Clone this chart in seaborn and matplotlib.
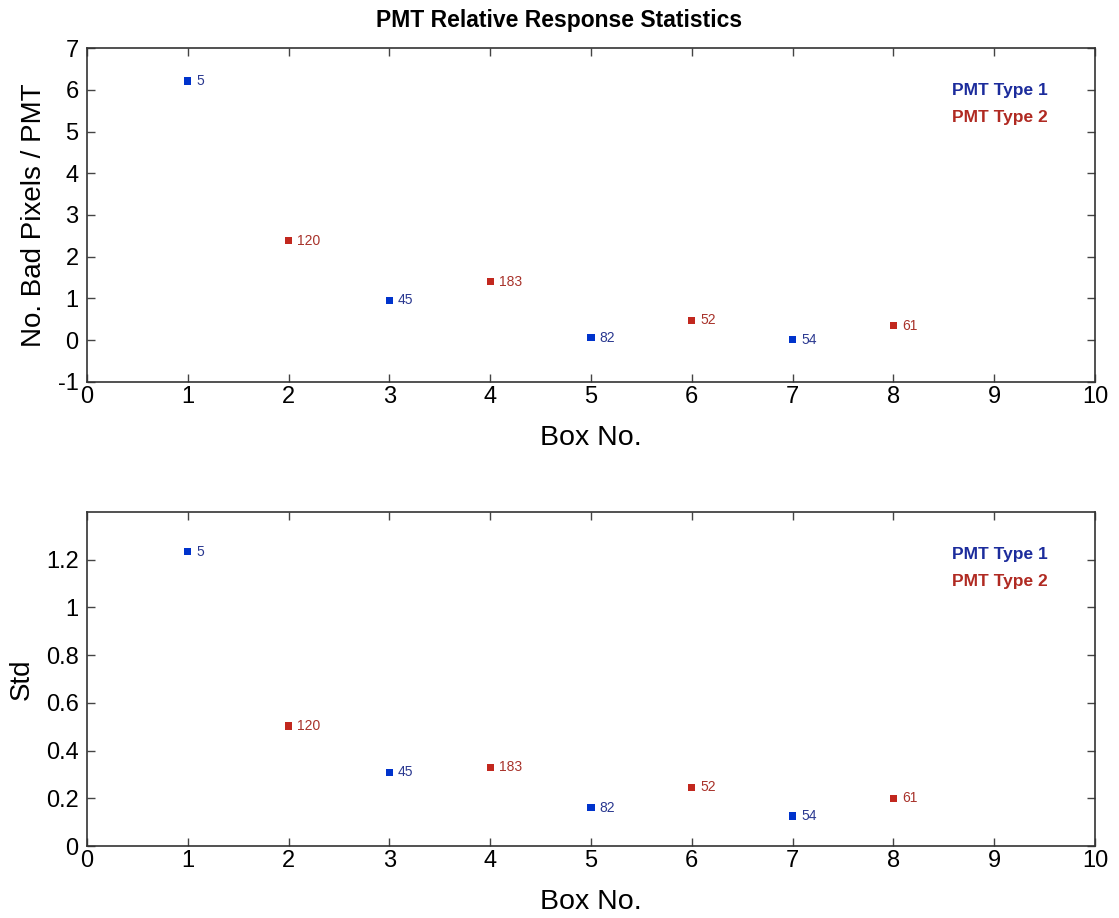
import matplotlib
matplotlib.use("Agg")
import matplotlib.pyplot as plt
import seaborn as sns
import pandas as pd

boxes = [1, 2, 3, 4, 5, 6, 7, 8]
pmt_type = ["PMT Type 1", "PMT Type 2", "PMT Type 1", "PMT Type 2",
            "PMT Type 1", "PMT Type 2", "PMT Type 1", "PMT Type 2"]
bad_pixels = [6.21, 2.38, 0.96, 1.40, 0.06, 0.48, 0.01, 0.35]
std_vals = [1.234, 0.503, 0.31, 0.33, 0.16, 0.247, 0.126, 0.20]
counts = [5, 120, 45, 183, 82, 52, 54, 61]

marker_colors = {"PMT Type 1": "#0033cc", "PMT Type 2": "#c2281e"}
label_colors = {"PMT Type 1": "#2a3890", "PMT Type 2": "#a8322a"}
legend_colors = {"PMT Type 1": "#1c2c9c", "PMT Type 2": "#b02a22"}

df = pd.DataFrame({"box": boxes, "type": pmt_type, "bad": bad_pixels,
                   "std": std_vals, "n": counts})

sns.set_style("ticks")
plt.rcParams["font.family"] = ["Liberation Sans", "DejaVu Sans"]
plt.rcParams["text.color"] = "black"
plt.rcParams["axes.labelcolor"] = "black"
plt.rcParams["xtick.color"] = "#444444"
plt.rcParams["ytick.color"] = "#444444"
plt.rcParams["xtick.labelcolor"] = "black"
plt.rcParams["ytick.labelcolor"] = "black"

fig = plt.figure(figsize=(11.19, 9.18), dpi=100)
ax1 = fig.add_axes([0.0777, 0.5839, 0.9009, 0.3638])
ax2 = fig.add_axes([0.0777, 0.0784, 0.9009, 0.3638])

for ax, col, ylabel, ylim, yticks, yfmt in [
    (ax1, "bad", "No. Bad Pixels / PMT", (-1, 7), list(range(-1, 8)), lambda v: f"{v:d}"),
    (ax2, "std", "Std", (0, 1.4), [0, 0.2, 0.4, 0.6, 0.8, 1.0, 1.2],
     lambda v: f"{v:g}"),
]:
    sns.scatterplot(data=df, x="box", y=col, hue="type", palette=marker_colors,
                    marker="s", s=26, edgecolor="none", legend=False, ax=ax)
    for _, r in df.iterrows():
        ax.annotate(str(r["n"]), (r["box"], r[col]), xytext=(6, 0),
                    textcoords="offset points", va="center", ha="left",
                    fontsize=10, color=label_colors[r["type"]])
    ax.set_xlim(0, 10)
    ax.set_ylim(*ylim)
    ax.set_xticks(range(0, 11))
    ax.set_yticks(yticks)
    ax.set_yticklabels([yfmt(v) for v in yticks])
    ax.tick_params(direction="in", length=6, width=1, labelsize=17,
                   top=True, right=True)
    ax.tick_params(axis="x", pad=3)
    ax.tick_params(axis="y", pad=6)
    for sp in ax.spines.values():
        sp.set_linewidth(1.2)
        sp.set_color("#333333")
    ax.set_xlabel("Box No.", fontsize=20.5, labelpad=12)
    ax.set_ylabel(ylabel, fontsize=20, labelpad=8)
    ax.text(0.858, 0.872, "PMT Type 1", transform=ax.transAxes, fontsize=12.5,
            fontweight="bold", color=legend_colors["PMT Type 1"],
            ha="left", va="center")
    ax.text(0.858, 0.792, "PMT Type 2", transform=ax.transAxes, fontsize=12.5,
            fontweight="bold", color=legend_colors["PMT Type 2"],
            ha="left", va="center")

fig.text(0.5, 0.978, "PMT Relative Response Statistics", ha="center",
         va="center", fontsize=16.5, fontweight="bold")

fig.savefig("out.png", dpi=100)
